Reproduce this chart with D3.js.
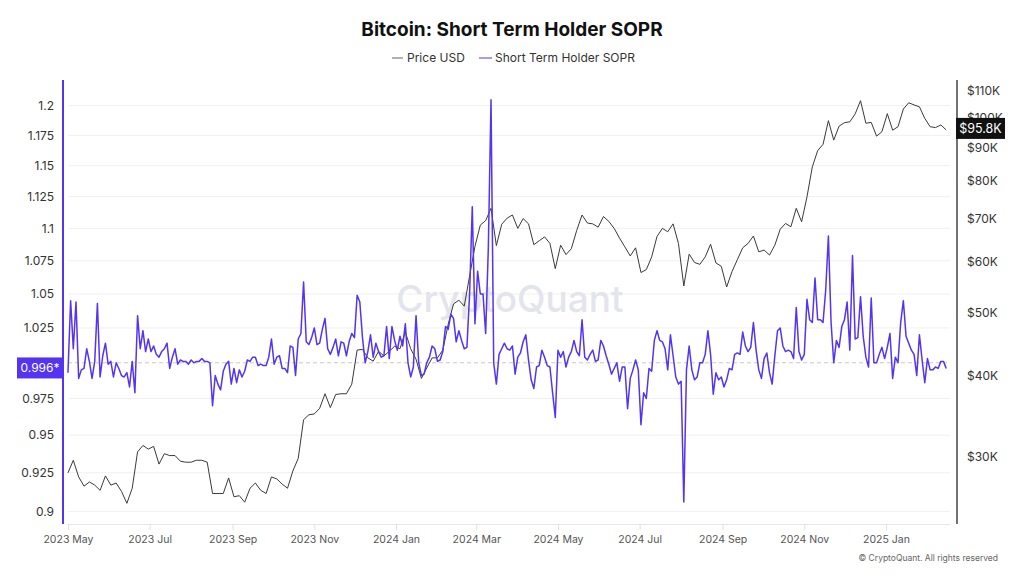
<!DOCTYPE html>
<html>
<head>
<meta charset="utf-8">
<script src="https://cdnjs.cloudflare.com/ajax/libs/d3/7.8.5/d3.min.js"></script>
<style>
  body { margin: 0; background: #fff; }
  svg { font-family: Inter, "Noto Sans", sans-serif; }
</style>
</head>
<body>
<svg id="chart" width="1024" height="576"></svg>
<script>
// SOPR, one value every 2 days from 2023-05-01
const soprStart = '2023-05-01'
const soprStepDays = 2
const soprValues = [
  0.993, 1.045, 1.010, 1.044, 0.989, 0.995, 0.996, 1.010, 1.001, 0.989,
  1.001, 1.043, 0.990, 1.005, 1.014, 0.999, 1.001, 0.990, 1.000, 0.996,
  0.991, 0.990, 0.993, 0.983, 1.001, 0.979, 1.034, 1.010, 1.023, 1.008,
  1.017, 1.008, 1.012, 1.006, 1.004, 1.008, 1.010, 1.014, 0.996, 1.004,
  1.010, 0.999, 1.002, 1.001, 1.001, 0.999, 1.002, 1.000, 1.001, 1.001,
  1.003, 1.001, 1.001, 1.000, 0.970, 0.991, 0.985, 0.981, 0.994, 0.999,
  1.001, 0.985, 0.996, 0.986, 0.995, 0.990, 0.994, 1.002, 1.001, 1.004,
  1.004, 0.998, 0.999, 0.998, 0.998, 1.004, 1.017, 0.999, 1.004, 1.005,
  0.996, 0.996, 0.993, 1.012, 1.011, 0.991, 1.017, 1.021, 1.059, 1.015,
  1.013, 1.018, 1.025, 1.013, 1.014, 1.024, 1.032, 1.010, 1.006, 1.011,
  1.017, 1.005, 1.015, 1.014, 1.005, 1.015, 1.021, 1.018, 1.049, 1.044,
  1.018, 1.000, 1.008, 1.020, 1.004, 1.014, 1.008, 1.004, 1.005, 1.026,
  1.003, 1.026, 1.016, 1.009, 1.019, 1.012, 1.028, 1.000, 0.990, 0.997,
  1.034, 1.000, 0.991, 0.992, 1.000, 1.004, 1.012, 1.010, 1.001, 1.002,
  1.008, 1.026, 1.024, 1.035, 1.032, 1.015, 1.023, 1.016, 1.010, 1.011,
  1.050, 1.117, 1.028, 1.067, 1.050, 1.050, 1.021, 1.085, 1.205, 1.000,
  0.985, 1.006, 1.010, 1.014, 1.010, 1.009, 1.012, 0.992, 1.004, 1.007,
  1.015, 1.020, 1.002, 0.988, 0.982, 0.997, 0.998, 1.009, 1.004, 0.998,
  0.997, 0.979, 0.962, 1.009, 1.004, 1.008, 0.997, 1.004, 1.008, 1.016,
  1.008, 1.005, 1.031, 1.004, 1.002, 1.006, 1.009, 1.001, 1.002, 1.016,
  1.012, 1.005, 0.999, 0.992, 0.996, 1.000, 0.987, 0.997, 0.997, 0.968,
  0.989, 0.995, 1.002, 0.995, 0.957, 0.979, 0.975, 0.996, 0.994, 1.016,
  1.023, 1.016, 1.015, 1.010, 0.995, 1.020, 1.005, 0.990, 0.985, 0.987,
  0.906, 0.995, 1.012, 0.995, 0.988, 0.990, 1.000, 1.000, 1.006, 1.023,
  1.006, 0.978, 0.993, 0.988, 0.990, 0.983, 0.988, 0.996, 0.995, 1.006,
  1.007, 1.006, 1.022, 1.012, 1.008, 1.011, 1.029, 1.009, 0.995, 0.989,
  1.003, 1.007, 0.993, 0.985, 1.005, 1.023, 1.025, 1.012, 1.008, 1.009,
  1.008, 1.003, 1.040, 1.008, 1.002, 1.006, 1.046, 1.031, 1.029, 1.062,
  1.031, 1.031, 1.029, 1.053, 1.094, 1.029, 1.000, 1.016, 1.011, 1.026,
  1.031, 1.044, 1.009, 1.079, 1.017, 1.018, 1.048, 1.019, 1.004, 0.997,
  1.047, 1.000, 1.000, 1.006, 1.011, 1.003, 1.011, 1.021, 0.989, 1.004,
  1.000, 1.029, 1.045, 1.019, 1.014, 1.009, 1.006, 0.991, 1.020, 1.002,
  0.986, 1.003, 0.995, 0.995, 0.997, 0.996, 1.001, 1.001, 0.996
]

// BTC price in USD, one value every 4 days from 2023-05-01
const priceStart = '2023-05-01'
const priceStepDays = 4
const priceValues = [
  28300, 29600, 27900, 27000, 27400, 27100, 26600, 28000, 27100, 27300,
  26500, 25400, 26800, 30500, 31200, 30800, 31100, 29200, 30300, 30100,
  30100, 29500, 29400, 29400, 29600, 29600, 29400, 26300, 26300, 26300,
  27800, 26000, 26100, 25500, 26800, 27300, 26600, 26300, 27900, 27700,
  27200, 26800, 28500, 29800, 34200, 34800, 34900, 35600, 37500, 35700,
  37400, 37500, 37500, 38800, 43800, 43900, 42600, 42100, 43600, 42900,
  43600, 44400, 44000, 46700, 44000, 42400, 39600, 41100, 42600, 42600,
  43800, 48000, 51600, 52300, 51200, 57000, 63300, 68300, 69400, 72500,
  63500, 68500, 70000, 70800, 67500, 69900, 68600, 63700, 64600, 65500,
  64000, 58500, 63600, 61500, 62800, 67000, 70800, 68800, 68600, 67800,
  70400, 69200, 67500, 65200, 63200, 61200, 63000, 57700, 58300, 61000,
  65600, 67500, 66700, 68600, 64000, 55000, 61600, 59800, 59400, 61000,
  63800, 59700, 59000, 54800, 57900, 60400, 63000, 64000, 65700, 62100,
  62500, 61400, 63600, 67300, 68700, 67900, 72500, 69100, 75500, 84000,
  89000, 91000, 99000, 92400, 97100, 98300, 98600, 101400, 106300, 98100,
  98400, 93700, 95200, 101500, 95700, 96900, 103200, 105500, 104700, 104000,
  99800, 96900, 96600, 97500, 95800
]

const soprTicks = [0.9, 0.925, 0.95, 0.975, 1.025, 1.05, 1.075, 1.1, 1.125, 1.15, 1.175, 1.2]
const priceTicks = [30000, 40000, 50000, 60000, 70000, 80000, 90000, 100000, 110000]
const monthTicks = ['2023-05-01', '2023-07-01', '2023-09-01', '2023-11-01', '2024-01-01',
  '2024-03-01', '2024-05-01', '2024-07-01', '2024-09-01', '2024-11-01', '2025-01-01']
const soprRefLine = 1
const soprLastLabel = '0.996*'
const priceLastLabel = '$95.8K'

const purple = '#5533f2'
const parseDay = d3.utcParse('%Y-%m-%d')

function toSeries (start, step, values) {
  let t0 = parseDay(start)
  return values.map((v, i) => ({ date: d3.utcDay.offset(t0, i * step), value: v }))
}
let soprData = toSeries(soprStart, soprStepDays, soprValues)
let priceData = toSeries(priceStart, priceStepDays, priceValues)

const svg = d3.select('#chart')
const plotTop = 80, plotBottom = 524, plotLeft = 63, plotRight = 957

const x = d3.scaleUtc()
  .domain([parseDay('2023-04-27'), parseDay('2025-02-20')])
  .range([62.6, 952.9])
const yL = d3.scaleLog().domain([0.892, 1.222]).range([plotBottom, plotTop])
const yR = d3.scaleLog().domain([23600, 114400]).range([plotBottom, plotTop])

// title + legend
svg.append('text')
  .attr('x', 512).attr('y', 36)
  .attr('text-anchor', 'middle')
  .attr('font-size', 19).attr('font-weight', 700).attr('fill', '#111')
  .text('Bitcoin: Short Term Holder SOPR')

let legend = svg.append('g').attr('font-size', 12).attr('fill', '#333')
legend.append('line').attr('x1', 392).attr('x2', 403).attr('y1', 58).attr('y2', 58)
  .attr('stroke', '#999').attr('stroke-width', 1.5)
legend.append('text').attr('x', 407).attr('y', 62).text('Price USD')
legend.append('line').attr('x1', 479).attr('x2', 492).attr('y1', 58).attr('y2', 58)
  .attr('stroke', '#8a78f6').attr('stroke-width', 1.5)
legend.append('text').attr('x', 495).attr('y', 62).text('Short Term Holder SOPR')

// gridlines
svg.append('g')
  .selectAll('line')
  .data(soprTicks)
  .enter().append('line')
  .attr('x1', 68).attr('x2', 950)
  .attr('y1', d => yL(d)).attr('y2', d => yL(d))
  .attr('stroke', '#f0f0f2').attr('stroke-width', 1)

// watermark
svg.append('text')
  .attr('x', 510).attr('y', 312)
  .attr('text-anchor', 'middle')
  .attr('font-size', 37).attr('font-weight', 500)
  .attr('fill', '#e4e4ec')
  .text('CryptoQuant')

// dashed reference line
svg.append('line')
  .attr('x1', 68).attr('x2', 950)
  .attr('y1', yL(soprRefLine)).attr('y2', yL(soprRefLine))
  .attr('stroke', '#c8c8c8').attr('stroke-dasharray', '4,3')

// bottom axis
let xAxis = svg.append('g')
  .attr('transform', `translate(0,${plotBottom})`)
  .call(d3.axisBottom(x)
    .tickValues(monthTicks.map(parseDay))
    .tickSize(6)
    .tickPadding(6)
    .tickFormat(d3.utcFormat('%Y %b')))
xAxis.select('.domain').attr('stroke', '#e6e6e6').attr('d', 'M68,0.5H950')
xAxis.selectAll('.tick line').attr('stroke', '#e0e0e0')
xAxis.selectAll('.tick text').attr('fill', '#555').attr('font-size', 10.5)
  .attr('font-family', 'Inter, "Noto Sans", sans-serif')

// left axis
let lAxis = svg.append('g')
  .attr('transform', `translate(${plotLeft},0)`)
  .call(d3.axisLeft(yL).tickValues(soprTicks).tickSize(0).tickPadding(9)
    .tickFormat(d => String(+d.toFixed(3))))
lAxis.select('.domain').remove()
lAxis.selectAll('.tick text').attr('fill', '#333').attr('font-size', 12)
  .attr('font-family', 'Inter, "Noto Sans", sans-serif')
svg.append('line').attr('x1', plotLeft).attr('x2', plotLeft).attr('y1', plotTop).attr('y2', plotBottom)
  .attr('stroke', purple).attr('stroke-width', 2)

// right axis
let rAxis = svg.append('g')
  .attr('transform', `translate(${plotRight},0)`)
  .call(d3.axisRight(yR).tickValues(priceTicks).tickSize(0).tickPadding(10)
    .tickFormat(d => '$' + d / 1000 + 'K'))
rAxis.select('.domain').remove()
rAxis.selectAll('.tick text').attr('fill', '#333').attr('font-size', 12)
  .attr('font-family', 'Inter, "Noto Sans", sans-serif')
svg.append('line').attr('x1', plotRight).attr('x2', plotRight).attr('y1', plotTop).attr('y2', plotBottom)
  .attr('stroke', '#444').attr('stroke-width', 1.5)

// price line
svg.append('path')
  .datum(priceData)
  .attr('fill', 'none')
  .attr('stroke', '#3a3a3a')
  .attr('stroke-width', 1)
  .attr('d', d3.line().x(d => x(d.date)).y(d => yR(d.value)))

// sopr line
svg.append('path')
  .datum(soprData)
  .attr('fill', 'none')
  .attr('stroke', purple)
  .attr('stroke-width', 1.5)
  .attr('stroke-linejoin', 'round')
  .attr('d', d3.line().x(d => x(d.date)).y(d => yL(d.value)))

// last value markers
let lastS = soprData[soprData.length - 1].value
let sy = yL(lastS)
svg.append('rect').attr('x', 17).attr('y', sy - 11).attr('width', 46).attr('height', 21)
  .attr('fill', purple)
svg.append('text').attr('x', 40).attr('y', sy + 4).attr('text-anchor', 'middle')
  .attr('font-size', 12).attr('fill', '#fff').text(soprLastLabel)

let lastP = priceData[priceData.length - 1].value
let py = yR(lastP)
svg.append('rect').attr('x', 956).attr('y', py - 12).attr('width', 49).attr('height', 21)
  .attr('fill', '#111')
svg.append('text').attr('x', 980.5).attr('y', py + 3).attr('text-anchor', 'middle')
  .attr('font-size', 12.5).attr('fill', '#fff').text(priceLastLabel)

// footer
svg.append('text')
  .attr('x', 998).attr('y', 561)
  .attr('text-anchor', 'end')
  .attr('font-size', 8.5).attr('fill', '#666')
  .text('© CryptoQuant. All rights reserved')
</script>
</body>
</html>
